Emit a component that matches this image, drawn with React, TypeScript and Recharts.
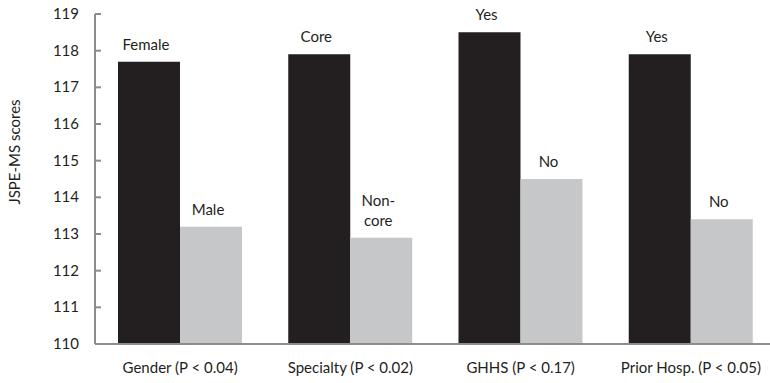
import { Bar, BarChart, LabelList, XAxis, YAxis } from "recharts";

const categories = [
  "Gender (P < 0.04)",
  "Specialty (P < 0.02)",
  "GHHS (P < 0.17)",
  "Prior Hosp. (P < 0.05)",
];
const highScores = [117.7, 117.9, 118.5, 117.9];
const lowScores = [113.2, 112.9, 114.5, 113.4];
const highNames = ["Female", "Core", "Yes", "Yes"];
const lowNames = ["Male", "Non-\ncore", "No", "No"];
const yTicks = [110, 111, 112, 113, 114, 115, 116, 117, 118, 119];

const data = categories.map((c, i) => ({
  cat: c,
  high: highScores[i],
  low: lowScores[i],
  highName: highNames[i],
  lowName: lowNames[i],
}));

const FONT = "Lato, 'Open Sans', sans-serif";
const TEXT = "#231F20";
const AXIS = "#8C8C8C";

function YTick(props: any) {
  const { x, y, payload } = props;
  return (
    <g>
      <text x={x} y={y} dy={5} textAnchor="end" fontSize={15} fontFamily={FONT} fill={TEXT}>
        {payload.value}
      </text>
      <line x1={x + 16} x2={x + 22} y1={y} y2={y} stroke={AXIS} strokeWidth={2} />
    </g>
  );
}

function makeBarLabel(names: string[]) {
  return (props: any) => {
    const { x, y, width, index } = props;
    const lines = String(names[index]).split("\n");
    const cx = x + width / 2 - 3;
    const base = y - 12;
    return (
      <text textAnchor="middle" fontSize={15} fontFamily={FONT} fill={TEXT}>
        {lines.map((ln, k) => (
          <tspan key={k} x={cx} y={base - (lines.length - 1 - k) * 20}>
            {ln}
          </tspan>
        ))}
      </text>
    );
  };
}

export default function App() {
  return (
    <div
      style={{
        position: "fixed",
        left: 0,
        top: 0,
        width: 770,
        height: 383,
        overflow: "hidden",
        background: "#fff",
      }}
    >
      <BarChart
        width={782}
        height={383}
        data={data}
        margin={{ top: 14, right: 6, left: 0, bottom: 0 }}
        barGap={0}
        barSize={62}
      >
        <XAxis
          dataKey="cat"
          height={39}
          tickLine={false}
          tickSize={0}
          tickMargin={18}
          axisLine={{ stroke: AXIS, strokeWidth: 2 }}
          tick={{ fontSize: 15, fontFamily: FONT, fill: TEXT }}
          interval={0}
        />
        <YAxis
          width={95}
          domain={[110, 119]}
          ticks={yTicks}
          interval={0}
          tickLine={false}
          tickSize={0}
          tickMargin={16}
          axisLine={{ stroke: AXIS, strokeWidth: 2 }}
          tick={<YTick />}
          allowDataOverflow
          label={{
            content: () => (
              <text
                x={20}
                y={152}
                transform="rotate(-90 20 152)"
                textAnchor="middle"
                fontSize={15}
                fontFamily={FONT}
                fill={TEXT}
              >
                JSPE-MS scores
              </text>
            ),
          }}
        />
        <Bar dataKey="high" fill="#231F20" isAnimationActive={false}>
          <LabelList dataKey="highName" content={makeBarLabel(highNames)} />
        </Bar>
        <Bar dataKey="low" fill="#C6C7C8" isAnimationActive={false}>
          <LabelList dataKey="lowName" content={makeBarLabel(lowNames)} />
        </Bar>
      </BarChart>
    </div>
  );
}
